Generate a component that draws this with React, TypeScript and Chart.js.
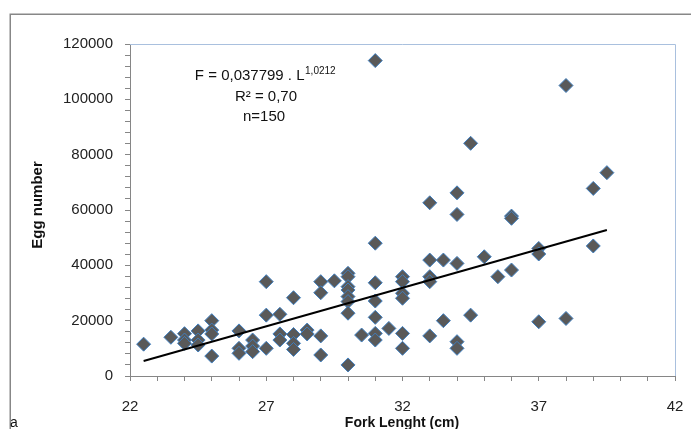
import React, { useEffect, useRef } from "react";
import { Chart, registerables } from "chart.js";

Chart.register(...registerables);

const forkLength: number[] = [
  22.5, 23.5, 24, 24, 24, 24.5, 24.5, 24.5, 25, 25, 25, 25, 26, 26, 26, 26.5, 26.5, 26.5,
  27, 27, 27, 27.5, 27.5, 27.5, 28, 28, 28, 28, 28.5, 28.5, 29, 29, 29, 29, 29.5,
  30, 30, 30, 30, 30, 30, 30, 30, 30.5, 31, 31, 31, 31, 31, 31, 31, 31.5,
  32, 32, 32, 32, 32, 32, 33, 33, 33, 33, 33, 33.5, 33.5, 34, 34, 34, 34, 34,
  34.5, 34.5, 35, 35.5, 36, 36, 36, 37, 37, 37, 38, 38, 39, 39, 39.5,
];
const eggNumber: number[] = [
  11500, 14000, 15300, 13000, 11800, 16300, 13000, 11200, 20000, 16600, 15200, 7200, 16300, 10000, 8200, 13000, 10800, 8800,
  34100, 22000, 10000, 22300, 15200, 13000, 28300, 15000, 11800, 9600, 16600, 15200, 34100, 30100, 14500, 7600, 34400,
  37100, 35900, 32300, 31100, 28700, 26900, 22700, 4000, 14800, 114000, 48000, 33700, 27100, 21200, 15400, 13000, 17200,
  35900, 34100, 29900, 28100, 15400, 10000, 62600, 41900, 35900, 34100, 14500, 41900, 20000, 66200, 58400, 40700, 12400, 10000,
  84100, 22000, 43100, 35900, 57800, 57000, 38300, 46100, 44100, 19600, 105000, 20800, 67800, 47000, 73500,
];
const trendX: number[] = [22.5, 39.5];
const trendY: number[] = [5400, 52800];

const xTickLabels: number[] = [22, 27, 32, 37, 42];
const yTickLabels: number[] = [0, 20000, 40000, 60000, 80000, 100000, 120000];

const xTitle = "Fork Lenght (cm)";
const yTitle = "Egg number";
const panelLabel = "a";
const eqMain = "F = 0,037799 . L";
const eqExp = "1,0212";
const eqR2 = "R\u00b2 = 0,70";
const eqN = "n=150";

const FONT = "'Liberation Sans', Arial, sans-serif";

export default function App() {
  const canvasRef = useRef<HTMLCanvasElement | null>(null);

  useEffect(() => {
    const canvas = canvasRef.current;
    if (!canvas) return;

    const decor = {
      id: "decor",
      beforeDatasetsDraw(chart: any) {
        const { ctx, chartArea } = chart;
        ctx.save();
        ctx.strokeStyle = "#a9c0de";
        ctx.lineWidth = 1;
        ctx.beginPath();
        ctx.moveTo(chartArea.left, chartArea.top + 0.5);
        ctx.lineTo(chartArea.right + 0.5, chartArea.top + 0.5);
        ctx.lineTo(chartArea.right + 0.5, chartArea.bottom);
        ctx.stroke();
        ctx.restore();
      },
      afterDraw(chart: any) {
        const { ctx } = chart;
        ctx.save();
        ctx.strokeStyle = "#878787";
        ctx.lineWidth = 1.5;
        ctx.strokeRect(10.25, 14.25, 720, 440);

        ctx.fillStyle = "#111";
        ctx.save();
        ctx.translate(38, 205);
        ctx.rotate(-Math.PI / 2);
        ctx.font = `bold 15px ${FONT}`;
        ctx.textAlign = "center";
        ctx.textBaseline = "middle";
        ctx.fillText(yTitle, 0, 0);
        ctx.restore();

        ctx.font = `bold 14px ${FONT}`;
        ctx.textAlign = "center";
        ctx.textBaseline = "middle";
        ctx.fillText(xTitle, 402, 423);

        ctx.font = `14px ${FONT}`;
        ctx.textAlign = "left";
        ctx.fillText(panelLabel, 10, 423);

        const cx = 265;
        ctx.textBaseline = "alphabetic";
        ctx.font = `15px ${FONT}`;
        const w1 = ctx.measureText(eqMain).width;
        ctx.font = `10px ${FONT}`;
        const w2 = ctx.measureText(eqExp).width;
        const sx = cx - (w1 + w2) / 2;
        ctx.textAlign = "left";
        ctx.font = `15px ${FONT}`;
        ctx.fillText(eqMain, sx, 80);
        ctx.font = `10px ${FONT}`;
        ctx.fillText(eqExp, sx + w1 + 0.5, 74);
        ctx.font = `15px ${FONT}`;
        ctx.textAlign = "center";
        ctx.fillText(eqR2, cx + 1, 101);
        ctx.fillText(eqN, cx - 1, 121);
        ctx.restore();
      },
    };

    const chart = new Chart(canvas, {
      type: "scatter",
      data: {
        datasets: [
          {
            type: "line",
            data: trendX.map((x, i) => ({ x, y: trendY[i] })),
            borderColor: "#000",
            borderWidth: 2,
            pointRadius: 0,
            showLine: true,
            fill: false,
          } as any,
          {
            data: forkLength.map((x, i) => ({ x, y: eggNumber[i] })),
            pointStyle: "rectRot",
            pointRadius: 7,
            backgroundColor: "#595959",
            borderColor: "#3f7fc0",
            borderWidth: 1,
          },
        ],
      },
      options: {
        responsive: false,
        animation: false,
        devicePixelRatio: 1,
        layout: { padding: { left: 0, top: 44, right: 16, bottom: 0 } },
        plugins: {
          legend: { display: false },
          tooltip: { enabled: false },
        },
        scales: {
          x: {
            type: "linear",
            min: 22,
            max: 42,
            afterFit: (s: any) => {
              s.height = 53;
              s.paddingLeft = 0;
              s.paddingRight = 0;
            },
            ticks: {
              stepSize: 1,
              autoSkip: false,
              maxRotation: 0,
              padding: 17,
              color: "#222",
              font: { family: FONT, size: 15 },
              callback: (v: any) => (xTickLabels.includes(Number(v)) ? String(v) : ""),
            },
            grid: {
              drawOnChartArea: false,
              drawTicks: true,
              tickLength: 5,
              color: "#868686",
            },
            border: { color: "#868686", width: 1 },
          },
          y: {
            type: "linear",
            min: 0,
            max: 120000,
            afterFit: (s: any) => {
              s.width = 130;
            },
            ticks: {
              stepSize: 4000,
              autoSkip: false,
              padding: 12,
              color: "#222",
              font: { family: FONT, size: 15 },
              callback: (v: any) => (yTickLabels.includes(Number(v)) ? String(v) : ""),
            },
            grid: {
              drawOnChartArea: false,
              drawTicks: true,
              tickLength: 5,
              color: "#868686",
            },
            border: { color: "#868686", width: 1 },
          },
        },
      },
      plugins: [decor],
    });

    return () => chart.destroy();
  }, []);

  return (
    <div style={{ position: "fixed", left: 0, top: 0, width: 691, height: 429, background: "#fff" }}>
      <canvas ref={canvasRef} width={691} height={429} style={{ width: 691, height: 429, display: "block" }} />
    </div>
  );
}
